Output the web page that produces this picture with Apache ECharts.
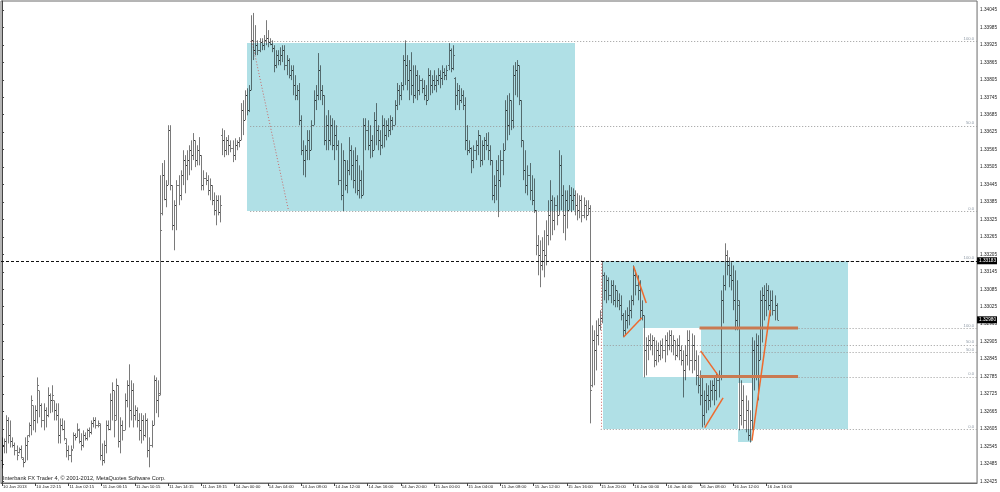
<!DOCTYPE html>
<html><head><meta charset="utf-8">
<style>html,body{margin:0;padding:0;background:#fff;overflow:hidden}#c{width:1000px;height:492px}</style>
<script src="https://cdn.jsdelivr.net/npm/echarts@6.0.0/dist/echarts.min.js"></script>
</head><body><div id="c"></div>
<script>
// ---- data ----
const timeLabels = ["10 Jan 2013","10 Jan 22:15","11 Jan 02:15","11 Jan 06:15","11 Jan 10:15","11 Jan 14:15","11 Jan 18:15","14 Jan 00:00","14 Jan 04:00","14 Jan 08:00","14 Jan 12:00","14 Jan 16:00","14 Jan 20:00","15 Jan 00:00","15 Jan 04:00","15 Jan 08:00","15 Jan 12:00","15 Jan 16:00","15 Jan 20:00","16 Jan 00:00","16 Jan 04:00","16 Jan 08:00","16 Jan 12:00","16 Jan 16:00"];
const barsPerLabel = 16;
const priceTicks = [1.34045,1.33985,1.33925,1.33865,1.33805,1.33745,1.33685,1.33625,1.33565,1.33505,1.33445,1.33385,1.33325,1.33265,1.33205,1.33145,1.33085,1.33025,1.32965,1.32905,1.32845,1.32785,1.32725,1.32665,1.32605,1.32545,1.32485,1.32425];

const opens = [
1.32497,1.32548,1.32565,1.32634,1.32583,1.32565,1.32548,1.32531,1.32524,1.32537,
1.32503,1.32490,1.32548,1.32583,1.32617,1.32686,1.32634,1.32669,1.32737,1.32686,
1.32634,1.32669,1.32652,1.32720,1.32703,1.32703,1.32669,1.32652,1.32583,1.32617,
1.32606,1.32558,1.32531,1.32514,1.32537,1.32583,1.32576,1.32600,1.32565,1.32548,
1.32583,1.32572,1.32600,1.32593,1.32624,1.32634,1.32617,1.32617,1.32514,1.32497,
1.32548,1.32617,1.32606,1.32703,1.32737,1.32652,1.32755,1.32565,1.32617,1.32600,
1.32703,1.32755,1.32669,1.32737,1.32652,1.32669,1.32634,1.32600,1.32634,1.32583,
1.32634,1.32531,1.32548,1.32617,1.32772,1.32703,1.32730,1.33347,1.33477,1.33397,
1.33443,1.33632,1.33443,1.33305,1.33374,1.33443,1.33408,1.33477,1.33529,1.33511,
1.33529,1.33563,1.33546,1.33597,1.33529,1.33563,1.33546,1.33443,1.33466,1.33460,
1.33425,1.33443,1.33391,1.33357,1.33391,1.33350,1.33615,1.33597,1.33563,1.33597,
1.33580,1.33569,1.33546,1.33580,1.33590,1.33597,1.33701,1.33666,1.33752,1.33701,
1.33769,1.33941,1.33907,1.33924,1.33907,1.33934,1.33924,1.33941,1.33948,1.33934,
1.33927,1.33913,1.33855,1.33890,1.33873,1.33890,1.33907,1.33855,1.33873,1.33821,
1.33838,1.33787,1.33752,1.33769,1.33666,1.33563,1.33529,1.33563,1.33597,1.33563,
1.33649,1.33735,1.33752,1.33838,1.33769,1.33752,1.33597,1.33649,1.33597,1.33649,
1.33580,1.33615,1.33580,1.33460,1.33408,1.33529,1.33443,1.33494,1.33563,1.33511,
1.33460,1.33529,1.33425,1.33460,1.33408,1.33649,1.33632,1.33580,1.33597,1.33563,
1.33666,1.33632,1.33597,1.33580,1.33649,1.33615,1.33649,1.33632,1.33666,1.33649,
1.33718,1.33769,1.33752,1.33787,1.33873,1.33855,1.33804,1.33838,1.33787,1.33752,
1.33821,1.33769,1.33804,1.33776,1.33752,1.33735,1.33821,1.33787,1.33804,1.33787,
1.33804,1.33821,1.33810,1.33831,1.33821,1.33855,1.33907,1.33845,1.33810,1.33752,
1.33769,1.33735,1.33752,1.33718,1.33597,1.33563,1.33569,1.33529,1.33563,1.33580,
1.33615,1.33529,1.33580,1.33597,1.33580,1.33563,1.33529,1.33408,1.33443,1.33494,
1.33460,1.33529,1.33563,1.33701,1.33649,1.33735,1.33666,1.33821,1.33838,1.33855,
1.33735,1.33597,1.33494,1.33443,1.33477,1.33425,1.33391,1.33357,1.33236,1.33202,
1.33167,1.33219,1.33202,1.33271,1.33339,1.33391,1.33322,1.33374,1.33339,1.33511,
1.33408,1.33339,1.33391,1.33357,1.33408,1.33391,1.33408,1.33374,1.33357,1.33391,
1.33339,1.33374,1.33339,1.33363,1.32755,1.32909,1.32875,1.32927,1.32961,1.32985,
1.33133,1.33081,1.33116,1.33064,1.33099,1.33047,1.33081,1.33047,1.33030,1.32995,
1.32944,1.32978,1.32995,1.33013,1.33047,1.33133,1.33099,1.33081,1.33013,1.32995,
1.32875,1.32892,1.32909,1.32892,1.32909,1.32841,1.32875,1.32858,1.32892,1.32875,
1.32909,1.32892,1.32927,1.32892,1.32909,1.32858,1.32892,1.32875,1.32841,1.32806,
1.32858,1.32909,1.32841,1.32892,1.32841,1.32789,1.32755,1.32720,1.32652,1.32703,
1.32720,1.32703,1.32737,1.32755,1.32737,1.32772,1.32789,1.33047,1.33099,1.33202,
1.33167,1.33133,1.33116,1.33047,1.32978,1.33030,1.32652,1.32703,1.32634,1.32669,
1.32583,1.32634,1.32875,1.32789,1.32892,1.32841,1.33047,1.33064,1.33047,1.33081,
1.33030,1.33047,1.33013,1.33030];
const highs = [
1.32576,1.32572,1.32652,1.32645,1.32634,1.32576,1.32558,1.32548,1.32541,1.32548,
1.32507,1.32576,1.32583,1.32627,1.32720,1.32686,1.32686,1.32782,1.32737,1.32693,
1.32693,1.32679,1.32748,1.32727,1.32755,1.32703,1.32693,1.32693,1.32641,1.32641,
1.32634,1.32572,1.32548,1.32548,1.32593,1.32590,1.32624,1.32606,1.32590,1.32600,
1.32593,1.32606,1.32610,1.32634,1.32645,1.32645,1.32634,1.32624,1.32555,1.32565,
1.32634,1.32634,1.32727,1.32765,1.32737,1.32778,1.32755,1.32645,1.32634,1.32727,
1.32772,1.32827,1.32772,1.32762,1.32686,1.32679,1.32659,1.32659,1.32652,1.32659,
1.32641,1.32576,1.32634,1.32789,1.32782,1.32772,1.33477,1.33519,1.33529,1.33460,
1.33649,1.33649,1.33443,1.33391,1.33460,1.33477,1.33494,1.33563,1.33546,1.33563,
1.33580,1.33597,1.33622,1.33597,1.33580,1.33608,1.33546,1.33494,1.33487,1.33477,
1.33466,1.33443,1.33418,1.33408,1.33408,1.33408,1.33638,1.33632,1.33608,1.33615,
1.33597,1.33597,1.33604,1.33597,1.33608,1.33725,1.33735,1.33769,1.33776,1.33787,
1.34027,1.34035,1.33993,1.33941,1.33948,1.33948,1.33959,1.34010,1.33976,1.33948,
1.33941,1.33924,1.33907,1.33907,1.33917,1.33924,1.33924,1.33890,1.33879,1.33855,
1.33855,1.33821,1.33787,1.33794,1.33683,1.33597,1.33580,1.33632,1.33632,1.33666,
1.33769,1.33787,1.33897,1.33855,1.33787,1.33752,1.33683,1.33701,1.33683,1.33673,
1.33666,1.33649,1.33597,1.33587,1.33563,1.33529,1.33529,1.33608,1.33580,1.33563,
1.33573,1.33546,1.33511,1.33494,1.33673,1.33673,1.33666,1.33649,1.33615,1.33694,
1.33725,1.33649,1.33632,1.33683,1.33673,1.33666,1.33673,1.33683,1.33677,1.33735,
1.33794,1.33787,1.33797,1.33890,1.33941,1.33890,1.33873,1.33900,1.33855,1.33855,
1.33838,1.33821,1.33810,1.33804,1.33787,1.33845,1.33838,1.33821,1.33838,1.33821,
1.33845,1.33838,1.33855,1.33845,1.33855,1.33931,1.33913,1.33924,1.33814,1.33794,
1.33787,1.33776,1.33769,1.33745,1.33649,1.33597,1.33573,1.33580,1.33597,1.33632,
1.33615,1.33597,1.33608,1.33622,1.33625,1.33580,1.33529,1.33477,1.33529,1.33546,
1.33563,1.33587,1.33735,1.33752,1.33759,1.33735,1.33855,1.33866,1.33873,1.33855,
1.33735,1.33597,1.33563,1.33511,1.33519,1.33477,1.33466,1.33357,1.33271,1.33253,
1.33264,1.33288,1.33322,1.33391,1.33460,1.33408,1.33401,1.33408,1.33563,1.33546,
1.33443,1.33425,1.33425,1.33443,1.33436,1.33432,1.33425,1.33415,1.33408,1.33408,
1.33401,1.33391,1.33391,1.33374,1.32961,1.32944,1.32978,1.32985,1.33013,1.33182,
1.33143,1.33133,1.33126,1.33116,1.33116,1.33099,1.33081,1.33071,1.33064,1.33003,
1.33013,1.33023,1.33047,1.33064,1.33167,1.33150,1.33133,1.33116,1.33047,1.32995,
1.32920,1.32927,1.32933,1.32927,1.32920,1.32909,1.32902,1.32909,1.32916,1.32927,
1.32937,1.32944,1.32944,1.32927,1.32909,1.32916,1.32927,1.32892,1.32875,1.32892,
1.32944,1.32944,1.32933,1.32927,1.32875,1.32858,1.32806,1.32782,1.32737,1.32762,
1.32755,1.32772,1.32772,1.32789,1.32799,1.32806,1.33081,1.33133,1.33243,1.33219,
1.33195,1.33178,1.33167,1.33150,1.33116,1.33047,1.32772,1.32755,1.32720,1.32703,
1.32669,1.32920,1.32909,1.32933,1.32927,1.33081,1.33092,1.33099,1.33106,1.33099,
1.33081,1.33081,1.33064,1.33037];
const lows = [
1.32469,1.32521,1.32521,1.32555,1.32541,1.32541,1.32514,1.32497,1.32521,1.32503,
1.32473,1.32490,1.32497,1.32576,1.32583,1.32600,1.32593,1.32624,1.32645,1.32610,
1.32600,1.32610,1.32645,1.32659,1.32662,1.32634,1.32634,1.32555,1.32555,1.32600,
1.32565,1.32507,1.32497,1.32490,1.32537,1.32565,1.32576,1.32555,1.32531,1.32541,
1.32565,1.32565,1.32576,1.32586,1.32610,1.32606,1.32610,1.32497,1.32479,1.32487,
1.32521,1.32600,1.32600,1.32634,1.32576,1.32634,1.32541,1.32521,1.32565,1.32600,
1.32679,1.32610,1.32634,1.32610,1.32634,1.32610,1.32565,1.32555,1.32565,1.32576,
1.32507,1.32473,1.32541,1.32617,1.32659,1.32645,1.32720,1.33339,1.33391,1.33367,
1.33443,1.33425,1.33288,1.33219,1.33288,1.33374,1.33391,1.33443,1.33415,1.33460,
1.33477,1.33494,1.33529,1.33505,1.33511,1.33511,1.33425,1.33425,1.33443,1.33408,
1.33391,1.33374,1.33339,1.33305,1.33339,1.33315,1.33546,1.33539,1.33546,1.33546,
1.33556,1.33522,1.33529,1.33563,1.33573,1.33597,1.33615,1.33666,1.33683,1.33694,
1.33769,1.33873,1.33890,1.33890,1.33900,1.33907,1.33907,1.33924,1.33917,1.33924,
1.33900,1.33831,1.33845,1.33855,1.33855,1.33866,1.33838,1.33821,1.33810,1.33804,
1.33752,1.33735,1.33735,1.33649,1.33546,1.33477,1.33470,1.33529,1.33529,1.33563,
1.33649,1.33701,1.33735,1.33735,1.33718,1.33580,1.33563,1.33563,1.33580,1.33563,
1.33529,1.33563,1.33443,1.33391,1.33354,1.33425,1.33415,1.33477,1.33460,1.33432,
1.33415,1.33408,1.33397,1.33397,1.33408,1.33563,1.33563,1.33535,1.33539,1.33563,
1.33580,1.33563,1.33546,1.33569,1.33573,1.33597,1.33608,1.33615,1.33632,1.33649,
1.33701,1.33718,1.33735,1.33769,1.33787,1.33769,1.33735,1.33752,1.33725,1.33741,
1.33735,1.33752,1.33759,1.33735,1.33718,1.33735,1.33752,1.33759,1.33769,1.33762,
1.33787,1.33776,1.33787,1.33804,1.33804,1.33838,1.33831,1.33838,1.33701,1.33718,
1.33701,1.33725,1.33701,1.33563,1.33546,1.33553,1.33484,1.33501,1.33529,1.33546,
1.33505,1.33511,1.33529,1.33563,1.33529,1.33511,1.33391,1.33381,1.33391,1.33333,
1.33436,1.33477,1.33563,1.33597,1.33615,1.33632,1.33638,1.33752,1.33745,1.33718,
1.33573,1.33460,1.33415,1.33408,1.33391,1.33374,1.33347,1.33202,1.33133,1.33092,
1.33150,1.33126,1.33167,1.33236,1.33253,1.33271,1.33288,1.33305,1.33339,1.33357,
1.33278,1.33253,1.33294,1.33357,1.33350,1.33357,1.33339,1.33322,1.33329,1.33315,
1.33329,1.33322,1.33339,1.32624,1.32748,1.32755,1.32806,1.32892,1.32944,1.32968,
1.33047,1.33037,1.33047,1.33037,1.33030,1.33023,1.33023,1.33013,1.32978,1.32920,
1.32927,1.32950,1.32961,1.32985,1.33030,1.33064,1.33047,1.32978,1.32978,1.32782,
1.32789,1.32841,1.32875,1.32858,1.32817,1.32823,1.32834,1.32841,1.32847,1.32834,
1.32858,1.32875,1.32868,1.32858,1.32841,1.32851,1.32841,1.32823,1.32713,1.32772,
1.32823,1.32806,1.32796,1.32806,1.32755,1.32727,1.32686,1.32610,1.32617,1.32659,
1.32669,1.32679,1.32703,1.32686,1.32703,1.32713,1.32772,1.32968,1.33081,1.33133,
1.33092,1.33081,1.33013,1.32944,1.32944,1.32600,1.32617,1.32606,1.32593,1.32565,
1.32558,1.32600,1.32737,1.32772,1.32703,1.32841,1.32902,1.32978,1.32992,1.33013,
1.32992,1.32995,1.32978,1.32978];
const closes = [
1.32548,1.32565,1.32634,1.32583,1.32565,1.32548,1.32531,1.32514,1.32537,1.32510,
1.32490,1.32548,1.32565,1.32617,1.32703,1.32634,1.32669,1.32755,1.32686,1.32634,
1.32669,1.32652,1.32720,1.32703,1.32720,1.32669,1.32652,1.32583,1.32617,1.32606,
1.32572,1.32531,1.32514,1.32531,1.32583,1.32576,1.32606,1.32565,1.32548,1.32583,
1.32572,1.32600,1.32593,1.32624,1.32634,1.32617,1.32624,1.32514,1.32497,1.32548,
1.32617,1.32606,1.32703,1.32737,1.32634,1.32755,1.32565,1.32617,1.32600,1.32703,
1.32755,1.32669,1.32737,1.32652,1.32669,1.32634,1.32600,1.32634,1.32583,1.32634,
1.32531,1.32548,1.32617,1.32772,1.32703,1.32720,1.33288,1.33477,1.33397,1.33443,
1.33632,1.33443,1.33305,1.33374,1.33443,1.33408,1.33477,1.33529,1.33511,1.33529,
1.33563,1.33546,1.33597,1.33529,1.33563,1.33546,1.33443,1.33466,1.33460,1.33425,
1.33443,1.33391,1.33357,1.33391,1.33350,1.33374,1.33597,1.33563,1.33597,1.33580,
1.33569,1.33546,1.33580,1.33590,1.33597,1.33701,1.33666,1.33752,1.33701,1.33769,
1.33941,1.33907,1.33924,1.33907,1.33934,1.33924,1.33941,1.33948,1.33934,1.33927,
1.33913,1.33855,1.33890,1.33873,1.33890,1.33907,1.33855,1.33873,1.33821,1.33838,
1.33787,1.33752,1.33769,1.33666,1.33563,1.33529,1.33563,1.33597,1.33563,1.33649,
1.33735,1.33752,1.33838,1.33769,1.33752,1.33597,1.33649,1.33597,1.33649,1.33580,
1.33615,1.33580,1.33460,1.33408,1.33529,1.33443,1.33494,1.33563,1.33511,1.33460,
1.33529,1.33425,1.33460,1.33408,1.33649,1.33632,1.33580,1.33597,1.33563,1.33666,
1.33632,1.33597,1.33580,1.33649,1.33615,1.33649,1.33632,1.33666,1.33649,1.33718,
1.33769,1.33752,1.33787,1.33873,1.33855,1.33804,1.33838,1.33787,1.33752,1.33821,
1.33769,1.33804,1.33776,1.33752,1.33735,1.33821,1.33787,1.33804,1.33787,1.33804,
1.33821,1.33810,1.33831,1.33821,1.33838,1.33907,1.33845,1.33890,1.33752,1.33769,
1.33735,1.33752,1.33718,1.33597,1.33563,1.33569,1.33529,1.33563,1.33580,1.33615,
1.33529,1.33580,1.33597,1.33580,1.33563,1.33529,1.33408,1.33443,1.33494,1.33460,
1.33529,1.33563,1.33701,1.33649,1.33735,1.33666,1.33821,1.33838,1.33855,1.33735,
1.33597,1.33494,1.33443,1.33477,1.33425,1.33391,1.33357,1.33236,1.33202,1.33167,
1.33219,1.33202,1.33271,1.33339,1.33391,1.33322,1.33374,1.33339,1.33511,1.33408,
1.33339,1.33391,1.33357,1.33408,1.33391,1.33408,1.33374,1.33357,1.33391,1.33339,
1.33374,1.33339,1.33363,1.32737,1.32909,1.32875,1.32927,1.32961,1.32985,1.33133,
1.33081,1.33116,1.33064,1.33099,1.33047,1.33081,1.33047,1.33030,1.32995,1.32944,
1.32978,1.32995,1.33013,1.33047,1.33133,1.33099,1.33081,1.33013,1.32995,1.32875,
1.32892,1.32909,1.32892,1.32909,1.32841,1.32875,1.32858,1.32892,1.32875,1.32909,
1.32892,1.32927,1.32892,1.32909,1.32858,1.32892,1.32875,1.32841,1.32806,1.32858,
1.32909,1.32841,1.32892,1.32841,1.32789,1.32755,1.32720,1.32652,1.32703,1.32720,
1.32703,1.32737,1.32755,1.32737,1.32772,1.32789,1.33047,1.33099,1.33202,1.33167,
1.33133,1.33116,1.33047,1.32978,1.33047,1.32652,1.32703,1.32634,1.32669,1.32583,
1.32634,1.32875,1.32789,1.32892,1.32841,1.33047,1.33064,1.33047,1.33081,1.33030,
1.33047,1.33013,1.33030,1.32980];

// drawing objects, in (bar index, price)
const blueRects = [[117.9,1.33931,276.0,1.33354],[289.4,1.33183,407.3,1.32605],[354.6,1.32605,360.9,1.32559]];
const whiteRects = [[308.6,1.32952,336.4,1.32785],[354.6,1.32762,360.9,1.32605]];
const fiboStarts = [119.5,119.5,119.5,288.3,288.3,288.3,335.9,335.9,335.9];
const fiboPrices = [1.33939,1.33647,1.33354,1.33183,1.32894,1.32605,1.32952,1.32869,1.32785];
const fiboTexts  = ["100.0","50.0","0.0","100.0","50.0","0.0","100.0","50.0","0.0"];
const redDotted = [[120.3,1.33939,138.0,1.33354],[288.3,1.33183,288.3,1.32605]];
const orangeThin = [[304.1,1.33164,310.2,1.33038],[299.3,1.32921,308.1,1.32987],[336.4,1.32873,344.8,1.32789],[338.4,1.32609,347.2,1.32712],[361.1,1.32565,369.9,1.33013]];
const orangeThick = [[335.9,1.32952,383.3,1.32952],[335.9,1.32785,383.3,1.32785]];
const hLinePrice = 1.33183;
const tagPrices = [1.33183, 1.32980];
const copyright = "Interbank FX Trader 4, \u00a9 2001-2012, MetaQuotes Software Corp.";

// ---- chart ----
const X_MIN = -0.5, X_MAX = 469.5;
const FONT = '"Liberation Sans", Arial, sans-serif';
const tickIdx = timeLabels.map((_, k) => k * barsPerLabel);
const chart = echarts.init(document.getElementById('c'));

function segSeries(data, style, z) {
  return {
    type: 'custom', z: z, silent: true, clip: true, animation: false,
    data: data,
    renderItem: function (params, api) {
      const a = api.coord([api.value(0), api.value(1)]);
      const b = api.coord([api.value(2), api.value(3)]);
      let y1 = a[1], y2 = b[1], x1 = a[0], x2 = b[0];
      if (Math.abs(y1 - y2) < 0.01 && style.lineWidth === 1) { y1 = y2 = Math.round(y1) + 0.5; }
      if (Math.abs(x1 - x2) < 0.01) { x1 = x2 = Math.round(x1) + 0.5; }
      return { type: 'line', shape: { x1: x1, y1: y1, x2: x2, y2: y2 }, style: Object.assign({}, style) };
    }
  };
}
function rectSeries(data, fill, z) {
  return {
    type: 'custom', z: z, silent: true, animation: false, data: data,
    renderItem: function (params, api) {
      const a = api.coord([api.value(0), api.value(1)]);
      const b = api.coord([api.value(2), api.value(3)]);
      const x = Math.round(Math.min(a[0], b[0])), y = Math.round(Math.min(a[1], b[1]));
      return { type: 'rect', shape: { x: x, y: y, width: Math.round(Math.max(a[0], b[0])) - x, height: Math.round(Math.max(a[1], b[1])) - y }, style: { fill: fill } };
    }
  };
}

const barColor = 'rgba(0,0,0,0.52)';
const option = {
  animation: false,
  backgroundColor: '#ffffff',
  title: { text: copyright, left: 3, top: 475, padding: 0, textStyle: { fontSize: 5.6, fontWeight: 'normal', color: '#222', fontFamily: FONT } },
  grid: { left: 1, right: 19, top: 1, bottom: 9, show: true, borderColor: '#6a6a6a', borderWidth: 1, backgroundColor: 'transparent' },
  xAxis: {
    type: 'value', min: X_MIN, max: X_MAX,
    axisLine: { show: true, onZero: false, lineStyle: { color: '#6a6a6a' } },
    splitLine: { show: false },
    axisTick: { show: true, customValues: tickIdx, length: 3, lineStyle: { color: '#444' } },
    axisLabel: { customValues: tickIdx, formatter: function (v) { return timeLabels[Math.round(v / barsPerLabel)] || ''; }, align: 'left', margin: 2, padding: [0, 0, 0, 1], fontSize: 4.3, color: '#222', fontFamily: FONT }
  },
  yAxis: {
    type: 'value', position: 'right', min: 1.32419, max: 1.34076,
    axisLine: { show: true, lineStyle: { color: '#444' } },
    splitLine: { show: false },
    axisTick: { show: true, customValues: priceTicks, length: 2, lineStyle: { color: '#444' } },
    axisLabel: { customValues: priceTicks, formatter: function (v) { return v.toFixed(5); }, margin: 3, fontSize: 4.7, color: '#222', fontFamily: FONT }
  },
  series: [
    rectSeries(blueRects, '#b0e0e6', 1),
    rectSeries(whiteRects, '#ffffff', 2),
    segSeries(fiboStarts.map(function (s, k) { return [s, fiboPrices[k], X_MAX, fiboPrices[k]]; }), { stroke: '#9a9a9a', lineWidth: 1, lineDash: [1, 2] }, 3),
    segSeries(redDotted, { stroke: '#c86a6a', lineWidth: 1, lineDash: [1, 2] }, 3),
    {
      type: 'custom', z: 4, silent: true, animation: false,
      data: opens.map(function (o, i) { return [i, o, highs[i], lows[i], closes[i]]; }),
      renderItem: function (params, api) {
        const i = api.value(0);
        const pO = api.coord([i, api.value(1)]);
        const pH = api.coord([i, api.value(2)]);
        const pL = api.coord([i, api.value(3)]);
        const pC = api.coord([i, api.value(4)]);
        const x = Math.round(pH[0]) + 0.5;
        const st = { stroke: barColor, lineWidth: 1 };
        return { type: 'group', children: [
          { type: 'line', shape: { x1: x, y1: pH[1], x2: x, y2: pL[1] }, style: st },
          { type: 'line', shape: { x1: x - 1.5, y1: Math.round(pO[1]) + 0.5, x2: x - 0.5, y2: Math.round(pO[1]) + 0.5 }, style: st },
          { type: 'line', shape: { x1: x + 0.5, y1: Math.round(pC[1]) + 0.5, x2: x + 1.5, y2: Math.round(pC[1]) + 0.5 }, style: st }
        ] };
      }
    },
    segSeries([[X_MIN, hLinePrice, X_MAX, hLinePrice]], { stroke: '#111', lineWidth: 1, lineDash: [3, 2] }, 5),
    segSeries(orangeThick, { stroke: '#c97a52', lineWidth: 3 }, 6),
    segSeries(orangeThin, { stroke: '#ee6a2e', lineWidth: 1.5 }, 6),
    {
      type: 'custom', z: 7, silent: true, animation: false, clip: false,
      data: fiboPrices.map(function (p) { return [X_MAX, p]; }),
      renderItem: function (params, api) {
        const p = api.coord([api.value(0), api.value(1)]);
        return { type: 'text', x: p[0] - 3, y: p[1] - 0.5, style: { text: fiboTexts[params.dataIndex], fill: '#8f9aa6', font: '4.2px ' + FONT, align: 'right', verticalAlign: 'bottom' } };
      }
    },
    {
      type: 'custom', z: 8, silent: true, animation: false, clip: false,
      data: tagPrices.map(function (p) { return [X_MAX, p]; }),
      renderItem: function (params, api) {
        const p = api.coord([api.value(0), api.value(1)]);
        return { type: 'text', x: p[0], y: p[1], style: { text: tagPrices[params.dataIndex].toFixed(5), fill: '#ffffff', backgroundColor: '#000000', padding: [1, 1, 1, 2], font: '4.7px ' + FONT, align: 'left', verticalAlign: 'middle' } };
      }
    }
  ]
};
chart.setOption(option);
</script>
</body></html>
